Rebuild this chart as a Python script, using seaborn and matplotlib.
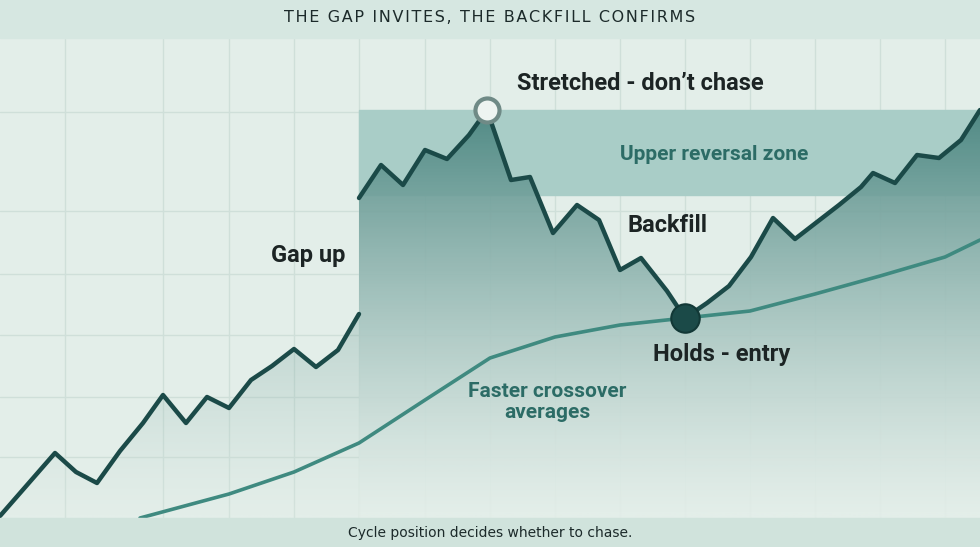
import numpy as np
import matplotlib
matplotlib.use("Agg")
import matplotlib.pyplot as plt
import seaborn as sns
import pandas as pd
from matplotlib.patches import Polygon
from matplotlib.colors import LinearSegmentedColormap

sns.set_theme(style="white")
plt.rcParams['font.family'] = ['Roboto', 'DejaVu Sans']

# price series (day index, level)
pre_x = [0, 55, 76, 97, 120, 143, 163, 186, 207, 229, 251, 272, 294, 316, 338, 359]
pre_y = [-21, 42, 23, 12, 44, 72, 100, 72, 98, 87, 115, 129, 146, 128, 145, 181]
post_x = [359, 381, 403, 425, 447, 469, 487, 511, 530, 553, 577, 599, 620, 641, 667, 685,
          707, 729, 751, 773, 795, 817, 839, 861, 873, 895, 917, 939, 961, 980]
post_y = [297, 330, 310, 345, 336, 360, 385, 315, 318, 262, 290, 275, 225, 237, 204, 177,
          192, 209, 238, 277, 256, 273, 290, 308, 322, 312, 340, 337, 355, 385]
ma_x = [140, 229, 294, 359, 425, 490, 555, 620, 685, 750, 815, 880, 945, 980]
ma_y = [-23, 1, 23, 52, 95, 137, 158, 170, 177, 184, 201, 219, 238, 255]
zone_lo, zone_hi = 300, 385
peak = (487, 385)
entry = (685, 177)

W, H = 980, 547
fig = plt.figure(figsize=(W/100, H/100), dpi=100)
fig.patch.set_facecolor("#e3eee9")
fig.patches.append(plt.Rectangle((0, 1-38/H), 1, 38/H, transform=fig.transFigure, color="#d6e7e1", zorder=0))
fig.patches.append(plt.Rectangle((0, 0), 1, 29/H, transform=fig.transFigure, color="#d0e3dc", zorder=0))
title = "THE GAP INVITES, THE BACKFILL CONFIRMS"
fig.text(0.5, 1-18/H, "\u200a".join(title), ha="center", va="center",
         fontsize=11.5, color="#1c2a2a", fontfamily="DejaVu Sans")
fig.text(0.5, 14/H, "Cycle position decides whether to chase.", ha="center", va="center",
         fontsize=10, color="#1c2a2a", fontfamily="DejaVu Sans")

ax = fig.add_axes([0, 29/H, 1, 480/H])
ax.set_facecolor("#e3eee9")
for s in ax.spines.values():
    s.set_visible(False)
ax.set_xticks([65, 163, 229, 294, 359, 425, 490, 555, 620, 685, 750, 815, 880, 945])
ax.set_yticks([495-y for y in [112, 211, 274, 335, 397, 457]])
ax.grid(True, color="#cfdfd9", lw=1)
ax.tick_params(length=0, labelbottom=False, labelleft=False)

ax.axhspan(zone_lo, zone_hi, xmin=359/980, xmax=1, color="#a9cdc7", zorder=1)

grad = np.linspace(0, 1, 256).reshape(-1, 1) ** 1.3
cmap = LinearSegmentedColormap.from_list("g", ["#e3eee9", "#4a8580"])
for xs, ys, ext, a in [(post_x, post_y, (359, 980, -23, 385), 0.92), (pre_x, pre_y, (0, 359, -23, 185), 0.25)]:
    im = ax.imshow(grad, extent=ext, origin="lower", cmap=cmap, aspect="auto", alpha=a, zorder=2)
    poly = Polygon(list(zip(xs, ys)) + [(xs[-1], -23), (xs[0], -23)], closed=True, transform=ax.transData)
    im.set_clip_path(poly)

df_pre = pd.DataFrame({"x": pre_x, "y": pre_y})
df_post = pd.DataFrame({"x": post_x, "y": post_y})
df_ma = pd.DataFrame({"x": ma_x, "y": ma_y})
sns.lineplot(data=df_pre, x="x", y="y", ax=ax, color="#1b4a48", lw=3.2, zorder=4, sort=False)
sns.lineplot(data=df_post, x="x", y="y", ax=ax, color="#1b4a48", lw=3.2, zorder=4, sort=False)
sns.lineplot(data=df_ma, x="x", y="y", ax=ax, color="#3f8a80", lw=2.6, zorder=4, sort=False)
ax.set_xlabel(""); ax.set_ylabel("")
ax.set_xlim(0, 980)
ax.set_ylim(-23, 457)

ax.scatter([peak[0]], [peak[1]], s=300, facecolor="#eef4f1", edgecolor="#6f8a86", lw=3, zorder=6)
ax.scatter([entry[0]], [entry[1]], s=420, facecolor="#1b4a48", edgecolor="#123836", lw=1.5, zorder=6)

kw = dict(fontweight="bold", color="#1c2424", fontsize=17, fontfamily="Roboto")
ax.text(640, 412, "Stretched - don\u2019t chase", ha="center", va="center", **kw)
ax.text(308, 240, "Gap up", ha="center", va="center", **kw)
ax.text(667, 270, "Backfill", ha="center", va="center", **kw)
ax.text(722, 140, "Holds - entry", ha="center", va="center", **kw)
ax.text(714, 341, "Upper reversal zone", ha="center", va="center", fontsize=15,
        fontweight="bold", color="#2c6c66", fontfamily="Roboto")
ax.text(547, 93, "Faster crossover\naverages", ha="center", va="center", fontsize=15,
        fontweight="bold", color="#2c6c66", fontfamily="Roboto", linespacing=1.1)

fig.savefig("out.png", dpi=100, facecolor=fig.get_facecolor())
